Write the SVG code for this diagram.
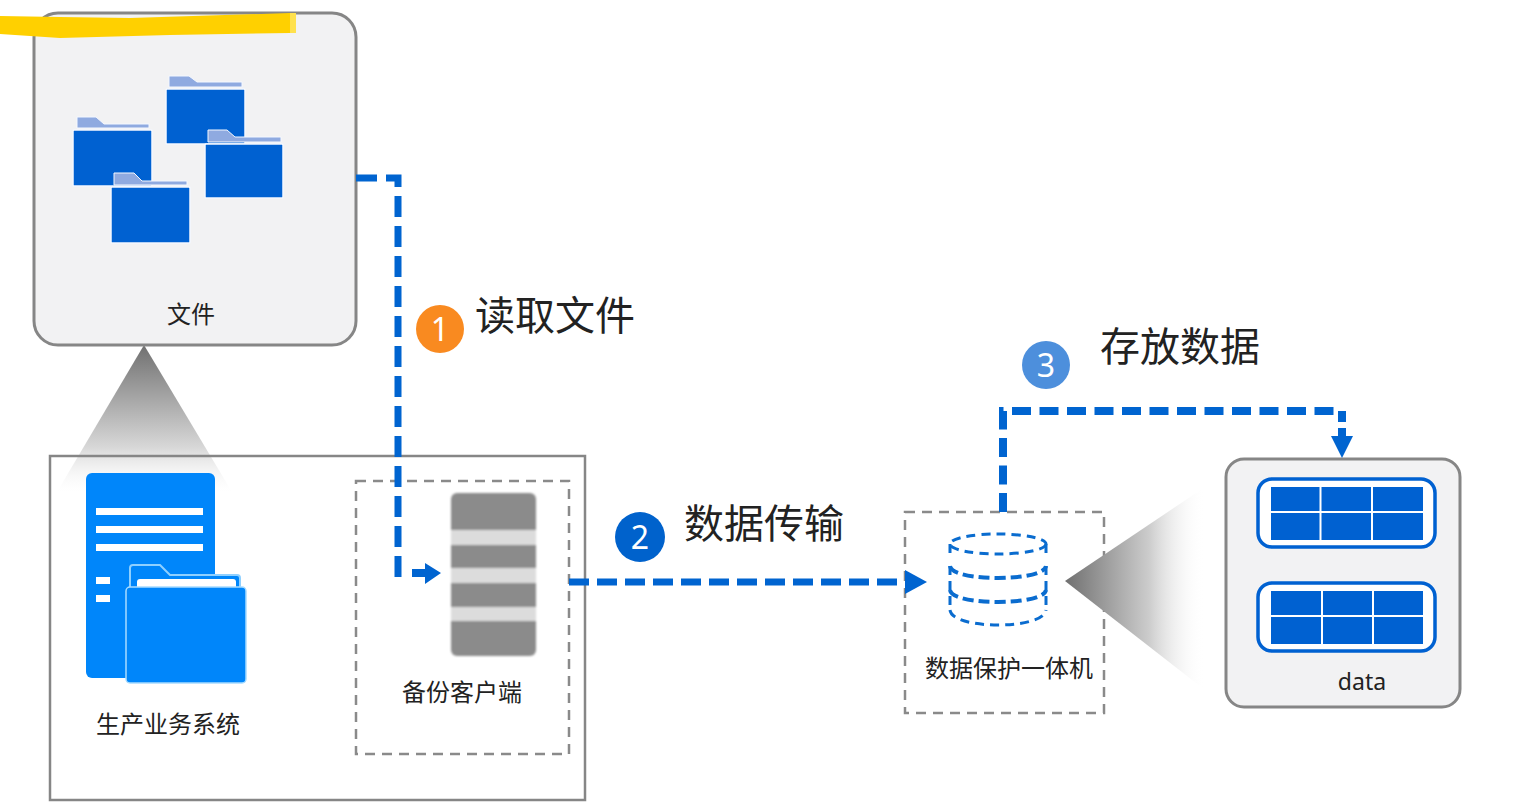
<svg xmlns="http://www.w3.org/2000/svg" width="1528" height="806" viewBox="0 0 1528 806">
<style>
.t{font-family:"Noto Sans CJK SC","Noto Sans",sans-serif;fill:#222}
.s{font-size:24px}
.b{font-size:40px}
.n{font-family:"Noto Sans",sans-serif;font-size:32px;fill:#fff;text-anchor:middle}
.box{fill:#f2f2f3;stroke:#868686;stroke-width:3}
.dash{fill:none;stroke:#8a8a8a;stroke-width:2.5;stroke-dasharray:10 7}
.c{fill:none;stroke:#0064d0;stroke-width:7}
.h{fill:#0064d0}
.fb{fill:#0061d1;stroke:#f4f8ff;stroke-width:1.5}
.ft{fill:#8faae0;stroke:#f4f8ff;stroke-width:1}
.cell{fill:#0061d1}
.tray{fill:#fff;stroke:#0061d1;stroke-width:3.5}
.db{fill:none;stroke:#0a6ccf;stroke-width:3;stroke-dasharray:9 6}
.db2{fill:none;stroke:#0a6ccf;stroke-width:4;stroke-dasharray:11 5}
.sb{fill:#8b8b8b}
.sl{fill:#dcdcdc}
.g{stroke:#fff;stroke-width:2;fill:none}
</style>
<defs>
<linearGradient id="gv" x1="0" y1="0" x2="0" y2="1"><stop offset="0" stop-color="#707070"/><stop offset=".7" stop-color="#d8d8d8"/><stop offset="1" stop-color="#fff" stop-opacity=".2"/></linearGradient>
<linearGradient id="gh" x1="0" y1="0" x2="1" y2="0"><stop offset="0" stop-color="#707070"/><stop offset=".6" stop-color="#ccc"/><stop offset="1" stop-color="#fff" stop-opacity="0"/></linearGradient>
<filter id="soft" x="-5%" y="-5%" width="110%" height="110%"><feGaussianBlur stdDeviation="1"/></filter>
</defs>
<rect width="1528" height="806" fill="#fff"/>
<g id="callout-files"><polygon points="144,345 57,492 232,492" fill="url(#gv)"/></g>
<g id="system-box"><rect x="50" y="456" width="535" height="344" fill="none" stroke="#868686" stroke-width="2.5"/></g>
<g id="files-node">
<rect class="box" x="34" y="13" width="322" height="332" rx="24"/>
<path d="M0 16 L60 17 L130 18 L290 13 V33 L170 35 L60 38 L0 34Z" fill="#ffd000"/>
<rect x="290" y="13" width="6" height="20" fill="#ffe14d"/>
<g id="folders">
<path class="ft" d="M169 76h20l8 6h45v5h-73z"/><rect class="fb" x="166" y="89" width="79" height="55" rx="1"/>
<path class="ft" d="M77 117h19l8 7h45v4h-72z"/><rect class="fb" x="73" y="130" width="79" height="56" rx="1"/>
<path class="ft" d="M208 130h19l8 7h46v5h-73z"/><rect class="fb" x="205" y="144" width="78" height="54" rx="1"/>
<path class="ft" d="M114 173h20l8 8h45v4h-73z"/><rect class="fb" x="111" y="187" width="79" height="56" rx="1"/>
</g>
<text class="t s" x="191" y="323" text-anchor="middle">文件</text>
</g>
<g id="production-node">
<rect x="86" y="473" width="129" height="205" rx="6" fill="#0086fa"/>
<g fill="#fff"><rect x="96" y="508" width="107" height="7"/><rect x="96" y="526" width="107" height="7"/><rect x="96" y="544" width="107" height="7"/><rect x="96" y="577" width="14" height="7"/><rect x="96" y="595" width="14" height="7"/></g>
<path d="M130 590V568q0-3 3-3h27l10 10h67q3 0 3 3v12z" fill="#0086fa" stroke="#8fd0ff" stroke-width="2"/>
<path d="M137 587v-5q0-3 3-3h93q3 0 3 3v5z" fill="#fff"/>
<rect x="126" y="587" width="120" height="96" rx="4" fill="#0086fa" stroke="#a8dcff" stroke-width="1.5"/>
<text class="t s" x="168" y="733" text-anchor="middle">生产业务系统</text>
</g>
<g id="client-node">
<rect class="dash" x="356" y="481" width="213" height="273"/>
<g id="server" filter="url(#soft)">
<rect class="sb" x="451" y="493" width="85" height="163" rx="6"/>
<rect class="sl" x="451" y="530" width="85" height="15"/><rect class="sl" x="451" y="568" width="85" height="15"/><rect class="sl" x="451" y="607" width="85" height="14"/>
</g>
<text class="t s" x="462" y="701" text-anchor="middle">备份客户端</text>
</g>
<g id="appliance-node">
<rect class="dash" x="905" y="512" width="199" height="201"/>
<g id="database">
<ellipse class="db" cx="998" cy="544" rx="48" ry="10"/>
<path class="db" d="M950 544V558M1046 544V558"/>
<path class="db2" d="M950 566C952 582 1044 582 1046 566"/>
<path class="db" d="M950 566V590M1046 566V590"/>
<path class="db2" d="M950 590C952 606 1044 606 1046 590"/>
<path class="db" d="M950 596V610M1046 596V610"/>
<path class="db" d="M950 610C952 630 1044 630 1046 610"/>
</g>
<text class="t s" x="1009" y="677" text-anchor="middle">数据保护一体机</text>
</g>
<g id="callout-data"><polygon points="1065,581 1205,487 1205,690" fill="url(#gh)"/></g>
<g id="data-node">
<rect class="box" x="1226" y="459" width="234" height="248" rx="18"/>
<rect class="tray" x="1258" y="479" width="177" height="68" rx="14"/>
<rect class="cell" x="1271" y="487" width="152" height="53"/>
<path class="g" d="M1270 512H1424M1320.500 486V541M1372 486V541"/>
<rect class="tray" x="1258" y="583" width="177" height="68" rx="14"/>
<rect class="cell" x="1271" y="591" width="152" height="53"/>
<path class="g" d="M1270 616H1424M1322 590V645M1373 590V645"/>
<text x="1362" y="690" font-family="Noto Sans,sans-serif" font-size="23" fill="#222" text-anchor="middle">data</text>
</g>
<g id="connectors">
<path class="c" stroke-dasharray="21 9" d="M356 178H398V577H406"/>
<polygon class="h" points="412,569 425,569 425,563 441,573 425,584 425,577 412,577"/>
<path class="c" stroke-dasharray="20 8" d="M569 582H906"/>
<polygon class="h" points="905,570 927,582 905,594"/>
<path class="c" style="stroke-width:8" stroke-dasharray="19 8.500" d="M1003 512V411H1342V422"/>
<polygon class="h" points="1331,436 1338,436 1338,428 1346,428 1346,436 1353,436 1342,458"/>
</g>
<g id="step-1"><circle cx="440" cy="329" r="24" fill="#f98a20"/><text class="n" x="440" y="341">1</text><text class="t b" x="475" y="330">读取文件</text></g>
<g id="step-2"><circle cx="640" cy="537" r="25" fill="#0062cc"/><text class="n" x="640" y="549">2</text><text class="t b" x="684" y="538">数据传输</text></g>
<g id="step-3"><circle cx="1046" cy="365" r="24" fill="#4d8fdc"/><text class="n" x="1046" y="377">3</text><text class="t b" x="1100" y="361">存放数据</text></g>
</svg>
